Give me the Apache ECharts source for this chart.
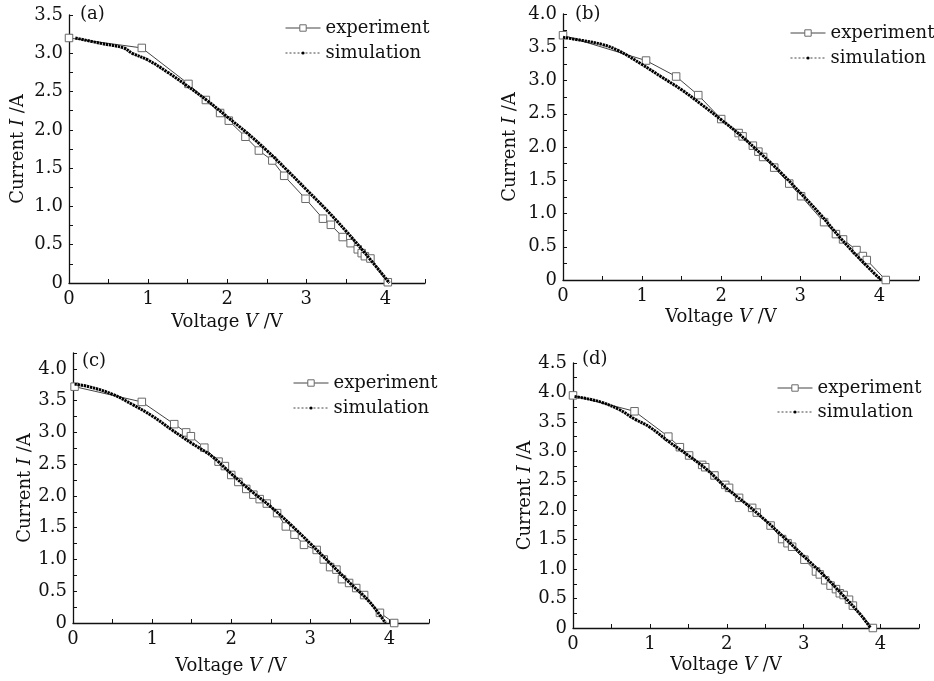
<!DOCTYPE html>
<html>
<head>
<meta charset="utf-8">
<script src="https://cdn.jsdelivr.net/npm/echarts@6/dist/echarts.min.js"></script>
<style>html,body{margin:0;padding:0;background:#fff}#c{width:934px;height:681px}</style>
</head>
<body>
<div id="c"></div>
<script>
// ---- data (voltage V, current A) ----
const panelLabels = ['(a)', '(b)', '(c)', '(d)'];
const yMaxes = [3.5, 4.0, 4.25, 4.5];
const xTickLabels = ['0', '1', '2', '3', '4'];

const expA = [[0,3.20],[0.92,3.07],[1.51,2.60],[1.73,2.39],[1.91,2.22],[2.02,2.12],[2.23,1.91],[2.40,1.73],[2.57,1.60],[2.72,1.40],[2.99,1.10],[3.21,0.84],[3.31,0.76],[3.46,0.60],[3.56,0.52],[3.65,0.44],[3.70,0.39],[3.74,0.35],[3.81,0.32],[4.03,0.01]];
const simA = [[0.08,3.20],[0.40,3.13],[0.69,3.07],[0.80,3.00],[1.00,2.91],[1.25,2.75],[1.50,2.57],[1.75,2.38],[2.00,2.17],[2.25,1.96],[2.50,1.73],[2.75,1.48],[3.00,1.22],[3.25,0.96],[3.50,0.68],[3.75,0.38],[4.05,0.00]];

const expB = [[0,3.68],[1.05,3.30],[1.43,3.06],[1.71,2.78],[2.00,2.42],[2.22,2.21],[2.27,2.16],[2.40,2.02],[2.47,1.93],[2.53,1.85],[2.67,1.69],[2.86,1.45],[3.01,1.26],[3.30,0.87],[3.45,0.69],[3.54,0.61],[3.71,0.45],[3.79,0.36],[3.84,0.30],[4.08,0.00]];
const simB = [[0,3.65],[0.25,3.60],[0.50,3.54],[0.70,3.45],[1.00,3.24],[1.25,3.05],[1.50,2.86],[1.75,2.64],[2.00,2.41],[2.25,2.17],[2.50,1.90],[2.75,1.62],[3.00,1.31],[3.25,0.99],[3.50,0.64],[3.75,0.32],[4.02,0.00]];

const expC = [[0.02,3.72],[0.87,3.48],[1.28,3.13],[1.43,3.00],[1.49,2.94],[1.66,2.76],[1.84,2.54],[1.92,2.47],[2.00,2.33],[2.09,2.22],[2.19,2.11],[2.28,2.02],[2.36,1.95],[2.45,1.88],[2.58,1.73],[2.69,1.52],[2.80,1.39],[2.92,1.23],[3.08,1.15],[3.17,1.00],[3.25,0.88],[3.33,0.84],[3.40,0.69],[3.49,0.63],[3.58,0.55],[3.68,0.44],[3.88,0.16],[4.06,0.00]];
const simC = [[0.02,3.76],[0.20,3.72],[0.50,3.60],[0.75,3.44],[1.00,3.26],[1.25,3.04],[1.50,2.83],[1.75,2.63],[2.00,2.35],[2.25,2.08],[2.50,1.83],[2.75,1.55],[3.00,1.25],[3.25,0.94],[3.50,0.63],[3.75,0.33],[3.95,0.00]];

const expD = [[0,3.95],[0.80,3.68],[1.24,3.25],[1.39,3.07],[1.51,2.93],[1.68,2.77],[1.72,2.73],[1.84,2.59],[1.98,2.43],[2.03,2.38],[2.16,2.21],[2.33,2.04],[2.39,1.96],[2.57,1.74],[2.72,1.51],[2.79,1.44],[2.85,1.38],[3.01,1.16],[3.16,0.96],[3.21,0.91],[3.28,0.81],[3.35,0.72],[3.42,0.66],[3.47,0.59],[3.52,0.56],[3.59,0.48],[3.64,0.38],[3.90,0.00]];
const simD = [[0.02,3.93],[0.20,3.89],[0.40,3.82],[0.60,3.71],[0.80,3.55],[1.00,3.41],[1.25,3.16],[1.50,2.93],[1.75,2.68],[2.00,2.37],[2.25,2.11],[2.50,1.83],[2.75,1.53],[3.00,1.22],[3.25,0.91],[3.50,0.57],[3.75,0.21],[3.87,0.00]];

const expData = [expA, expB, expC, expD];
const simData = [simA, simB, simC, simD];

// ---- layout ----
const FONT = 'DejaVu Serif';
const TXT = '#111';
const grids = [
  {left: 69, top: 15, width: 356, height: 268},
  {left: 563, top: 14, width: 356, height: 266},
  {left: 73, top: 353, width: 356, height: 270},
  {left: 573, top: 363, width: 346, height: 265}
];
const xNameGap = [30, 28, 34, 28];
const yNameGap = [42, 44, 39, 39];
const labelPos = [[80, 5], [575, 5], [82, 352], [582, 350]];
const legendPos = [[285, 28, 53], [790, 33, 58], [293, 383, 408], [777, 388, 412]];

const option = {
  backgroundColor: '#fff',
  animation: false,
  grid: [], xAxis: [], yAxis: [], series: [], legend: [], title: []
};

const axisLine = {show: true, onZero: false, lineStyle: {color: '#111', width: 1.3}};
const richName = {i: {fontStyle: 'italic', fontFamily: FONT, fontSize: 18, color: TXT}};

for (let k = 0; k < 4; k++) {
  option.grid.push(Object.assign({containLabel: false}, grids[k]));
  option.xAxis.push({
    type: 'value', gridIndex: k, min: 0, max: 4.5, interval: 0.5,
    name: 'Voltage {i|V} /V', nameLocation: 'middle', nameGap: xNameGap[k],
    nameTextStyle: {fontFamily: FONT, fontSize: 18, color: TXT, padding: [0, 40, 0, 0], rich: richName},
    axisLine: axisLine,
    axisTick: {show: true, inside: true, length: 4, lineStyle: {color: '#111'}},
    axisLabel: {margin: 7, fontFamily: FONT, fontSize: 18, color: TXT,
      formatter: v => (Math.abs(v - Math.round(v)) < 1e-6 && Math.round(v) <= 4) ? xTickLabels[Math.round(v)] : ''},
    splitLine: {show: false}
  });
  option.yAxis.push({
    type: 'value', gridIndex: k, min: 0, max: yMaxes[k], interval: 0.25,
    name: 'Current {i|I} /A', nameLocation: 'middle', nameGap: yNameGap[k],
    nameTextStyle: {fontFamily: FONT, fontSize: 18, color: TXT, rich: richName},
    axisLine: axisLine,
    axisTick: {show: true, inside: true, length: 4, lineStyle: {color: '#111'}},
    axisLabel: {margin: 6, fontFamily: FONT, fontSize: 18, color: TXT,
      formatter: v => {
        if (Math.abs(v * 2 - Math.round(v * 2)) > 1e-6) return '';
        return v === 0 ? '0' : v.toFixed(1);
      }},
    splitLine: {show: false}
  });
  option.series.push({
    name: 'experiment', type: 'line', xAxisIndex: k, yAxisIndex: k, z: 2,
    data: expData[k], symbol: 'rect', symbolSize: 7.5, showSymbol: true,
    itemStyle: {color: '#fff', borderColor: '#6a6a6a', borderWidth: 1},
    lineStyle: {color: '#444', width: 1}
  });
  option.series.push({
    name: 'simulation', type: 'line', xAxisIndex: k, yAxisIndex: k, z: 3,
    data: simData[k], smooth: 0.4, showSymbol: false, symbol: 'circle',
    itemStyle: {color: '#000'},
    lineStyle: {color: '#000', width: 3, type: [2.4, 0.7]}
  });
  option.title.push({
    text: panelLabels[k], left: labelPos[k][0], top: labelPos[k][1], padding: 0,
    textStyle: {fontFamily: FONT, fontSize: 18, fontWeight: 'normal', color: TXT}
  });
  const lp = legendPos[k];
  option.legend.push({
    left: lp[0], top: lp[1] - 10.5, padding: 0, itemWidth: 35, itemHeight: 8,
    textStyle: {fontFamily: FONT, fontSize: 18, color: TXT, lineHeight: 21},
    data: [{name: 'experiment', itemStyle: {color: '#fff', borderColor: '#6a6a6a', borderWidth: 1},
            lineStyle: {color: '#444', width: 1}}]
  });
  option.legend.push({
    left: lp[0], top: lp[2] - 10.5, padding: 0, itemWidth: 35, itemHeight: 4,
    textStyle: {fontFamily: FONT, fontSize: 18, color: TXT, lineHeight: 21},
    data: [{name: 'simulation', itemStyle: {color: '#000', borderWidth: 0},
            lineStyle: {color: '#444', width: 1, type: [2, 2]}}]
  });
}

const chart = echarts.init(document.getElementById('c'), null, {renderer: 'canvas'});
chart.setOption(option);
</script>
</body>
</html>
